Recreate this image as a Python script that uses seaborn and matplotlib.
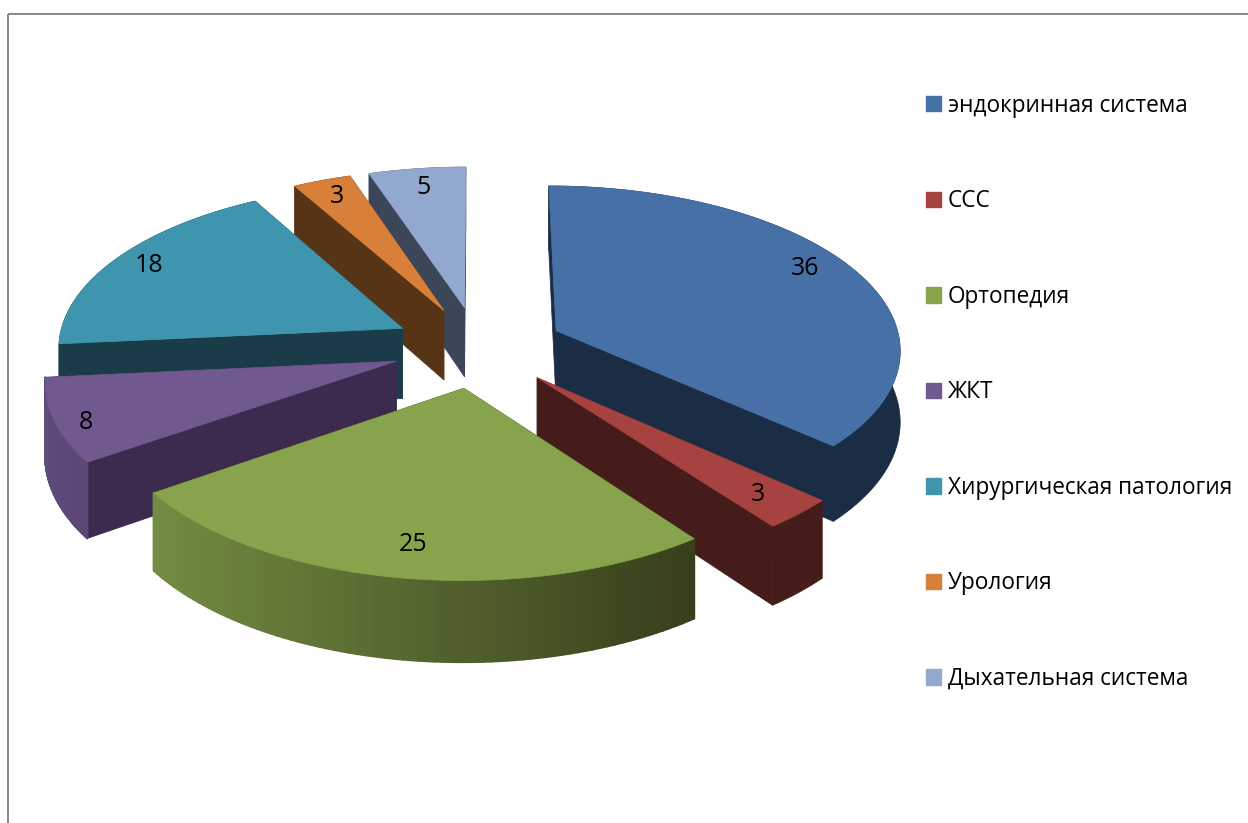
import numpy as np
import matplotlib
matplotlib.use("Agg")
import matplotlib.pyplot as plt
from matplotlib.patches import Patch, Polygon, Rectangle
from matplotlib.collections import PolyCollection
import seaborn as sns

categories = ["эндокринная система", "ССС", "Ортопедия", "ЖКТ",
              "Хирургическая патология", "Урология", "Дыхательная система"]
values = [36, 3, 25, 8, 18, 3, 5]
top_colors = ["#4670A6", "#A64340", "#87A34C", "#71588F", "#4095AE", "#D8803A", "#93A8CF"]
wall_colors = ["#1A2D45", "#451C1A", "#373F1B", "#3C2B4E", "#1A3C48", "#583417", "#3C4659"]
arc_left_colors = ["#1A2D45", "#451C1A", "#738B42", "#5F4B7C", "#1A3C48", "#583417", "#3C4659"]
arc_right_colors = ["#1A2D45", "#451C1A", "#373F1B", "#5A4775", "#1A3C48", "#583417", "#3C4659"]
label_radius = [0.87, 0.86, 0.84, 0.92, 0.885, 0.87, 0.85]
label_turn = [-4, 0.5, -0.5, -2.5, 0, 0, 0]

# projection of the exploded 3D pie
CX, CY, RX, RY, PERSP, DEPTH, EXPLODE = 478, 347, 345, 163, 0.104, 71, 0.25

sns.set_theme(style="white")
plt.rcParams["font.family"] = ["Open Sans", "DejaVu Sans"]

fig = plt.figure(figsize=(12.48, 8.23), dpi=100, facecolor="white")
ax = fig.add_axes([0, 0, 1, 1])
ax.set_xlim(0, 1248)
ax.set_ylim(823, 0)
ax.axis("off")
ax.add_patch(Rectangle((8, 14), 1400, 1000, fill=False, ec="#868686", lw=1.4))


def project(u, v, drop=0.0):
    s = 1.0 / (1.0 - PERSP * v)
    return np.column_stack([CX + RX * u * s, CY + RY * v * s + drop * s])


def disk(theta, radius, bis):
    u = EXPLODE * np.sin(bis) + radius * np.sin(theta)
    v = -EXPLODE * np.cos(bis) - radius * np.cos(theta)
    return u, v


total = sum(values)
edges = np.radians(np.concatenate([[0], np.cumsum(values)]) / total * 360)
bisectors = (edges[:-1] + edges[1:]) / 2
order = sorted(range(len(values)), key=lambda i: -np.cos(bisectors[i]))

for i in order:
    t = np.linspace(edges[i], edges[i + 1], 80)
    b = bisectors[i]
    u, v = disk(t, 1.0, b)
    au, av = disk(np.array([0.0]), 0.0, b)
    rim_top = project(u, v)
    rim_bot = project(u, v, DEPTH)
    apex_top = project(au, av)
    apex_bot = project(au, av, DEPTH)

    # flat radial walls
    for k in (0, -1):
        wall = np.vstack([apex_top, rim_top[k], rim_bot[k], apex_bot])
        ax.add_patch(Polygon(wall, closed=True, fc=wall_colors[i], ec=wall_colors[i], lw=0.5))

    # outer curved wall, shaded from left to right when the slice has a gradient
    if arc_left_colors[i] == arc_right_colors[i]:
        band = np.vstack([rim_top, rim_bot[::-1]])
        ax.add_patch(Polygon(band, closed=True, fc=wall_colors[i], ec=wall_colors[i], lw=0.5))
    else:
        shades = sns.blend_palette([arc_left_colors[i], arc_right_colors[i]], 256)
        xmin, xmax = rim_top[:, 0].min(), rim_top[:, 0].max()
        quads = [np.vstack([rim_top[j], rim_top[j + 1], rim_bot[j + 1], rim_bot[j]])
                 for j in range(len(t) - 1)]
        cols = [shades[int(255 * (rim_top[j, 0] - xmin) / max(xmax - xmin, 1))]
                for j in range(len(t) - 1)]
        ax.add_collection(PolyCollection(quads, facecolors=cols, edgecolors=cols, linewidths=1.5))

    # top face
    ax.add_patch(Polygon(np.vstack([apex_top, rim_top]), closed=True,
                         fc=top_colors[i], ec=top_colors[i], lw=0.5))

# value labels
for i in range(len(values)):
    lt = bisectors[i] + np.radians(label_turn[i])
    lu, lv = disk(np.array([lt]), label_radius[i], bisectors[i])
    p = project(lu, lv)[0]
    ax.text(p[0], p[1], str(values[i]), ha="center", va="center", fontsize=18, color="black")

handles = [Patch(fc=c, ec=c) for c in top_colors]
ax.legend(handles, categories, loc="upper left", bbox_to_anchor=(919 / 1248, 1 - 87 / 823),
          bbox_transform=fig.transFigure, frameon=False, fontsize=16.3, labelspacing=3.16,
          handlelength=0.66, handleheight=0.66, handletextpad=0.3, borderpad=0.3, borderaxespad=0,
          labelcolor="black")

fig.savefig("out.png", dpi=100)
